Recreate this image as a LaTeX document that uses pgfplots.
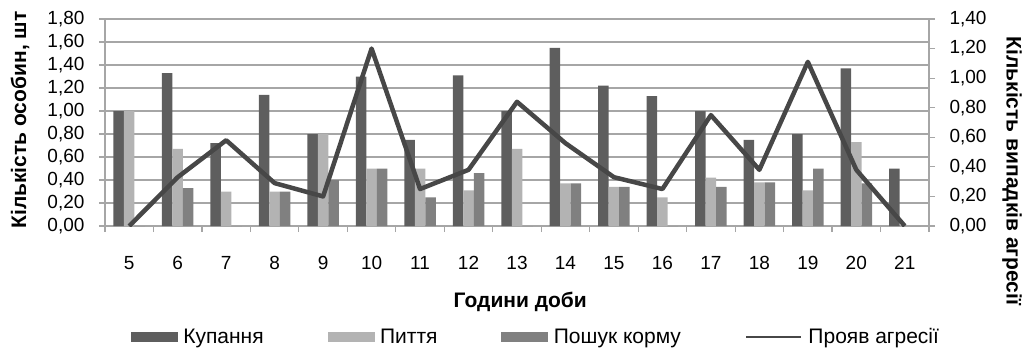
\documentclass[border=0pt]{standalone}
\usepackage{pgfplots}
\pgfplotsset{compat=1.18}
\usepackage{fontspec}
\setmainfont{Liberation Sans}
\definecolor{c1}{HTML}{5E5E5E}
\definecolor{c2}{HTML}{B3B3B3}
\definecolor{c3}{HTML}{808080}
\definecolor{c4}{HTML}{474747}
\definecolor{gridc}{HTML}{A6A6A6}
\begin{document}
\begin{tikzpicture}[font=\fontsize{19}{22}\selectfont]
\useasboundingbox (-105pt,-125pt) rectangle (922pt,226pt);
\begin{axis}[
  scale only axis, width=824pt, height=207pt,
  xmin=4.5, xmax=21.5, ymin=0, ymax=1.8,
  ybar=0pt, bar width=10.5pt,
  axis x line*=bottom, axis y line*=left,
  axis line style={gridc, line width=1.2pt, -},
  tick style={gridc, line width=1.2pt},
  tick align=outside, major tick length=6pt,
  xtick={4.5,5.5,6.5,7.5,8.5,9.5,10.5,11.5,12.5,13.5,14.5,15.5,16.5,17.5,18.5,19.5,20.5,21.5},
  xticklabels={5,6,7,8,9,10,11,12,13,14,15,16,17,18,19,20,21,{}},
  xticklabel style={xshift=24.235pt, yshift=-20pt, text height=13.5pt, text depth=0pt, anchor=north},
  ytick={0,0.2,0.4,0.6,0.8,1.0,1.2,1.4,1.6,1.8},
  yticklabel style={xshift=-11pt, /pgf/number format/.cd, fixed, fixed zerofill, precision=2, use comma, assume math mode=true},
  ymajorgrids, major grid style={gridc, line width=1.2pt},
  xlabel={\fontsize{21}{24}\selectfont\bfseries Години доби},
  every axis x label/.style={at={(axis description cs:0.504,-0.367)}, anchor=center},
  ylabel={\fontsize{21}{24}\selectfont\bfseries Кількість особин, шт},
  every axis y label/.style={at={(axis description cs:-0.103,0.512)}, anchor=center, rotate=90},
]
\addplot[fill=c1, draw=none] coordinates {(5,1.00) (6,1.33) (7,0.72) (8,1.14) (9,0.80) (10,1.30) (11,0.75) (12,1.31) (13,1.00) (14,1.55) (15,1.22) (16,1.13) (17,1.00) (18,0.75) (19,0.80) (20,1.37) (21,0.50)};
\addplot[fill=c2, draw=none] coordinates {(5,1.00) (6,0.67) (7,0.30) (8,0.30) (9,0.80) (10,0.50) (11,0.50) (12,0.31) (13,0.67) (14,0.37) (15,0.34) (16,0.25) (17,0.42) (18,0.38) (19,0.31) (20,0.73) (21,0)};
\addplot[fill=c3, draw=none] coordinates {(5,0) (6,0.33) (7,0) (8,0.30) (9,0.40) (10,0.50) (11,0.25) (12,0.46) (13,0) (14,0.37) (15,0.34) (16,0) (17,0.34) (18,0.38) (19,0.50) (20,0.37) (21,0)};
\end{axis}
\begin{axis}[
  scale only axis, width=824pt, height=207pt,
  xmin=4.5, xmax=21.5, ymin=0, ymax=1.4,
  axis x line=none, axis y line*=right,
  axis line style={gridc, line width=1.2pt, -},
  tick style={gridc, line width=1.2pt},
  tick align=outside, major tick length=6pt,
  ytick={0,0.2,0.4,0.6,0.8,1.0,1.2,1.4},
  yticklabel style={xshift=11pt, /pgf/number format/.cd, fixed, fixed zerofill, precision=2, use comma, assume math mode=true},
  ylabel={\fontsize{21}{24}\selectfont\bfseries Кількість випадків агресії},
  every axis y label/.style={at={(axis description cs:1.1007,0.266)}, anchor=center, rotate=-90},
  legend columns=4,
  legend style={at={(axis description cs:0.523,-0.536)}, anchor=center, draw=none, fill=none,
    inner sep=0pt, font=\fontsize{21}{24}\selectfont,
    /tikz/every even column/.append style={column sep=62pt}},
  legend cell align=left,
]
\addlegendimage{legend image code/.code={\fill[c1] (0pt,-4.5pt) rectangle (46pt,4.5pt); \path (50pt,0pt);}}
\addlegendentry{Купання}
\addlegendimage{legend image code/.code={\fill[c2] (0pt,-4.5pt) rectangle (46pt,4.5pt); \path (50pt,0pt);}}
\addlegendentry{Пиття}
\addlegendimage{legend image code/.code={\fill[c3] (0pt,-4.5pt) rectangle (46pt,4.5pt); \path (50pt,0pt);}}
\addlegendentry{Пошук корму}
\addplot[c4, line width=4.5pt, line join=round, mark=none,
  legend image code/.code={\draw[c4, line width=2.5pt] (0pt,0pt) -- (55pt,0pt); \path (58pt,0pt);}]
  coordinates {(5,0) (6,0.33) (7,0.58) (8,0.29) (9,0.20) (10,1.20) (11,0.25) (12,0.38) (13,0.84) (14,0.56) (15,0.33) (16,0.25) (17,0.75) (18,0.38) (19,1.11) (20,0.38) (21,0)};
\addlegendentry{Прояв агресії}
\end{axis}
\end{tikzpicture}
\end{document}
